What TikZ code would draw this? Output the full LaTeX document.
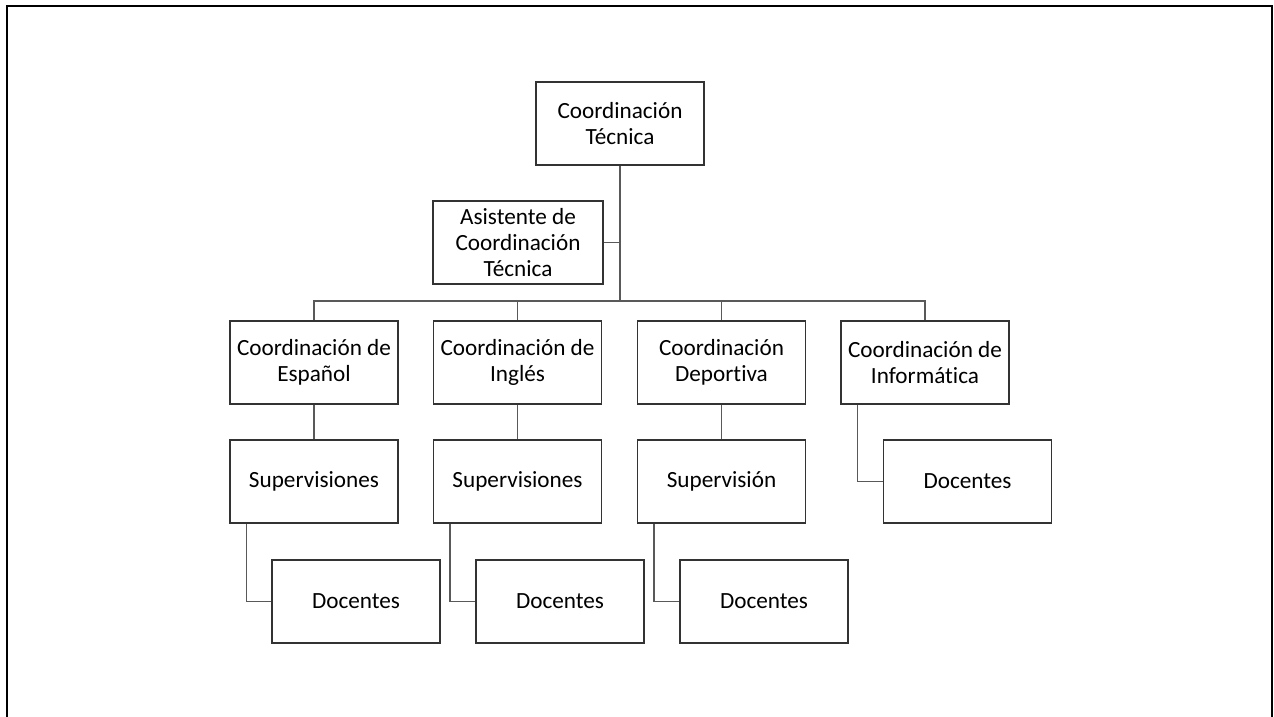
\documentclass[tikz,border=0pt]{standalone}
\usepackage{fontspec}
\setmainfont[Ligatures=NoCommon]{Carlito}
\usetikzlibrary{calc}
\begin{document}
\begin{tikzpicture}[x=0.5pt,y=-0.5pt,
  box/.style={draw=black!80, line width=0.6pt, fill=white, inner sep=0pt,
    minimum width=84pt, minimum height=41.5pt, align=center,
    font=\fontsize{11.6}{13}\selectfont},
  link/.style={draw=black!65, line width=0.6pt},
  frame/.style={draw=black, line width=1pt}]
\useasboundingbox (0,0) rectangle (1274,717);
% page frame, open at the bottom
\draw[frame] (7,717) -- (7,6) -- (1272,6) -- (1272,717);

% nodes
\node[box] (top)  at (620,123.5) {Coordinación\\Técnica};
\node[box, minimum width=85pt] (asis) at (518,242.5) {Asistente de\\Coordinación\\Técnica};

\node[box] (esp)  at (314,362.5)   {Coordinación de\\Español};
\node[box] (ing)  at (517.5,362.5) {Coordinación de\\Inglés};
\node[box] (dep)  at (721.5,362.5) {Coordinación\\Deportiva};
\node[box] (inf)  at (925,362.5)   {Coordinación de\\Informática};

\node[box] (supE) at (314,481.5)   {Supervisiones};
\node[box] (supI) at (517.5,481.5) {Supervisiones};
\node[box] (supD) at (721.5,481.5) {Supervisión};
\node[box] (docF) at (967.5,481.5) {Docentes};

\node[box] (docE) at (356,601.5)   {Docentes};
\node[box] (docI) at (560,601.5)   {Docentes};
\node[box] (docD) at (764,601.5)   {Docentes};

\coordinate (bus) at (620,301);

% connectors
\draw[link] (top.south) -- (bus);
\draw[link] (asis.east) -- (asis.east -| top.south);
\draw[link] (esp.north) -- (esp.north |- bus) -- (inf.north |- bus) -- (inf.north);
\draw[link] (ing.north) -- (ing.north |- bus);
\draw[link] (dep.north) -- (dep.north |- bus);

\draw[link] (esp.south) -- (supE.north);
\draw[link] (ing.south) -- (supI.north);
\draw[link] (dep.south) -- (supD.north);

\draw[link] ($(supE.south west)+(17,0)$) |- (docE.west);
\draw[link] ($(supI.south west)+(17,0)$) |- (docI.west);
\draw[link] ($(supD.south west)+(17,0)$) |- (docD.west);
\draw[link] ($(inf.south west)+(17,0)$) |- (docF.west);
\end{tikzpicture}
\end{document}
